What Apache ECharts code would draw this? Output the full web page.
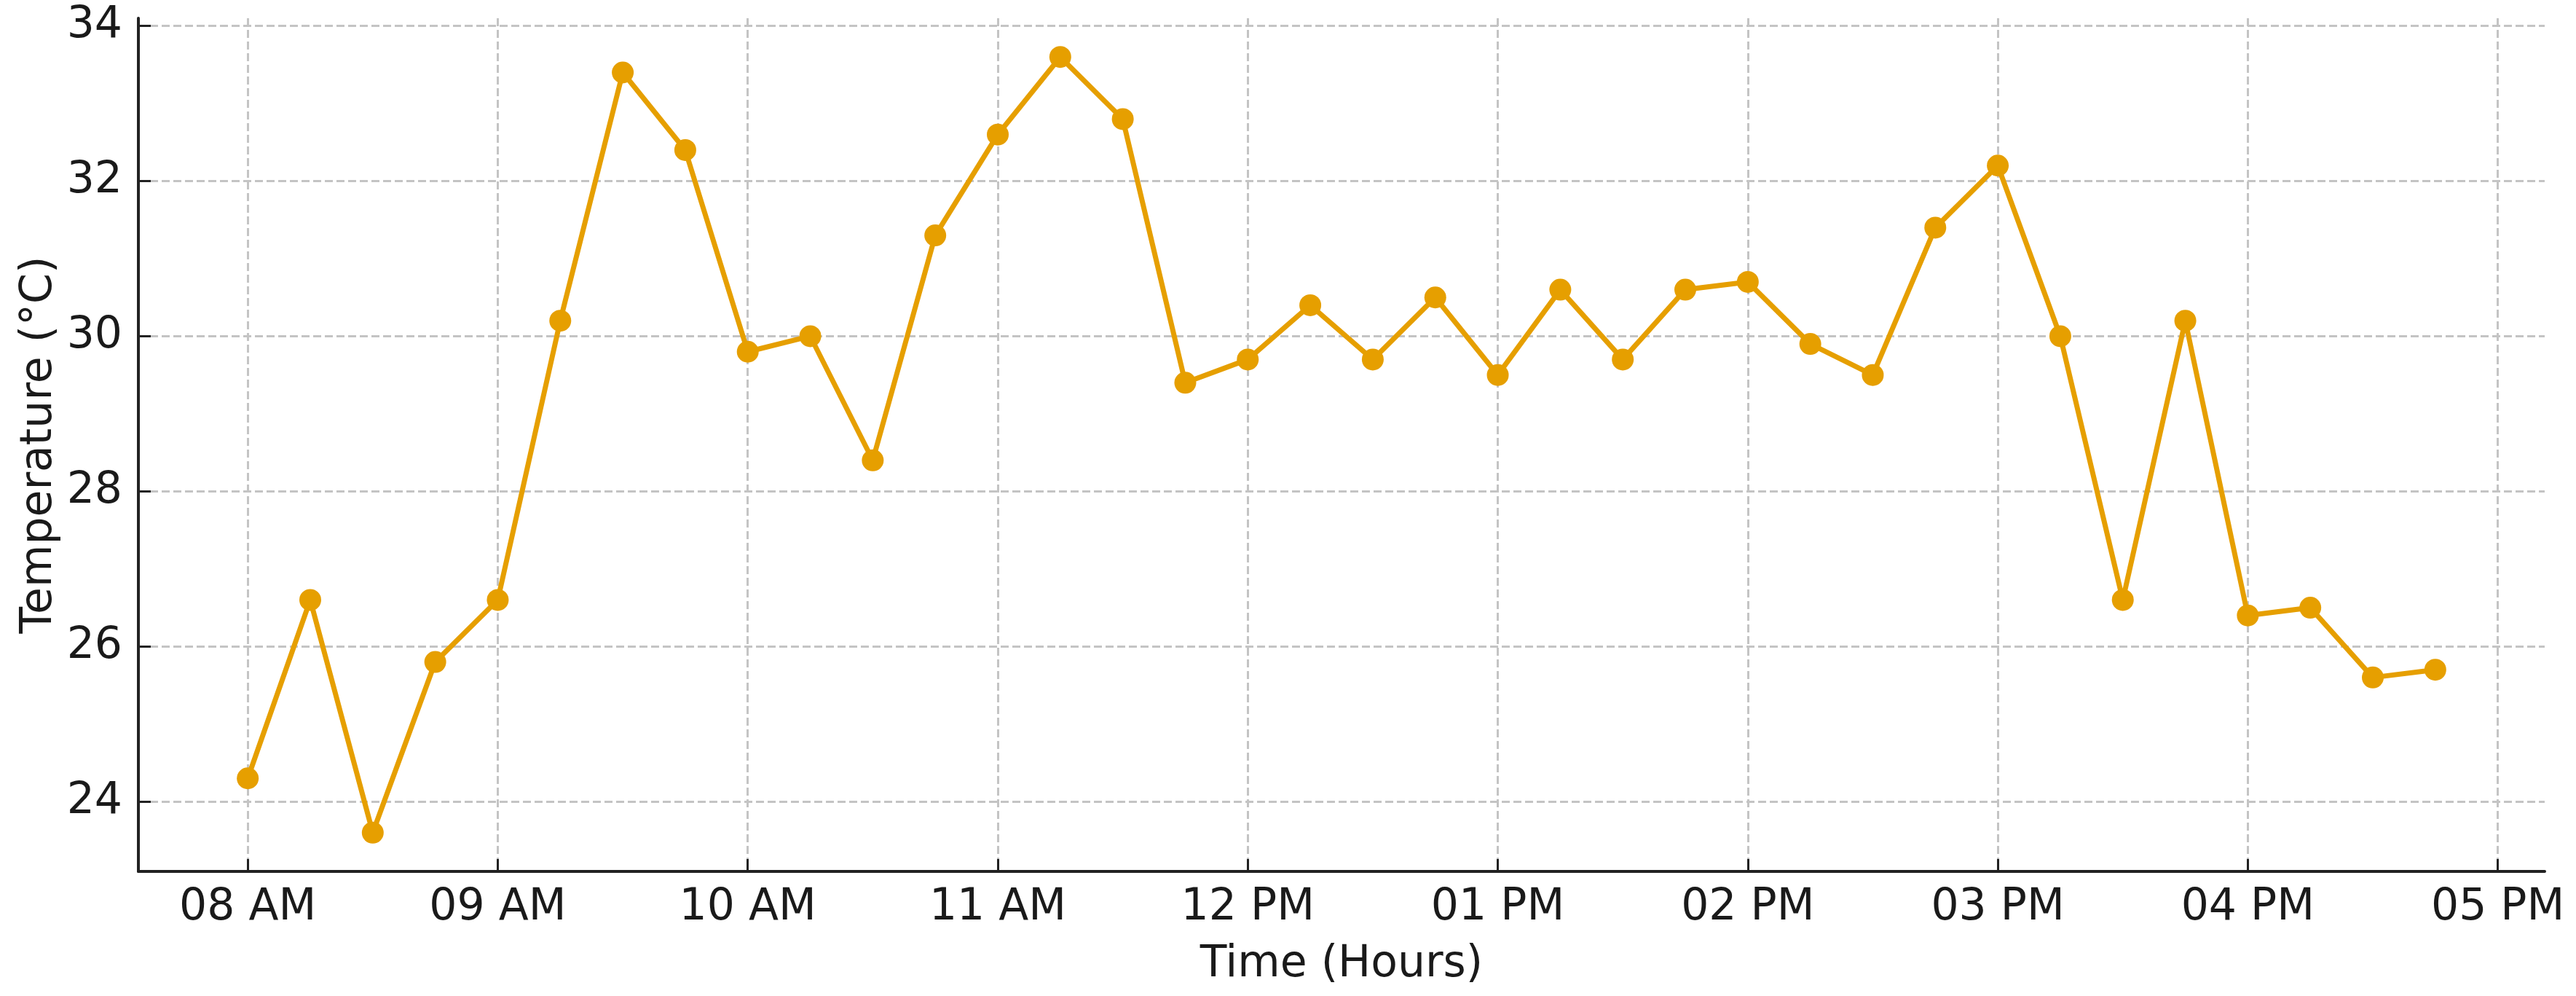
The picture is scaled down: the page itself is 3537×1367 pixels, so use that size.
<!DOCTYPE html>
<html>
<head>
<meta charset="utf-8">
<script src="https://cdn.jsdelivr.net/npm/echarts@6/dist/echarts.min.js"></script>
<style>
html,body{margin:0;padding:0;background:#fff;}
#chart{width:3537px;height:1367px;}
</style>
</head>
<body>
<div id="chart"></div>
<script>
// Data
const times = ['08:00','08:15','08:30','08:45','09:00','09:15','09:30','09:45',
  '10:00','10:15','10:30','10:45','11:00','11:15','11:30','11:45',
  '12:00','12:15','12:30','12:45','13:00','13:15','13:30','13:45',
  '14:00','14:15','14:30','14:45','15:00','15:15','15:30','15:45',
  '16:00','16:15','16:30','16:45'];
const temperatures = [24.3,26.6,23.6,25.8,26.6,30.2,33.4,32.4,
  29.8,30.0,28.4,31.3,32.6,33.6,32.8,29.4,
  29.7,30.4,29.7,30.5,29.5,30.6,29.7,30.6,
  30.7,29.9,29.5,31.4,32.2,30.0,26.6,30.2,
  26.4,26.5,25.6,25.7];
const xTickHours = [8,9,10,11,12,13,14,15,16,17];
const xTickLabels = ['08 AM','09 AM','10 AM','11 AM','12 PM','01 PM','02 PM','03 PM','04 PM','05 PM'];
const yTicks = [24,26,28,30,32,34];
const xTitle = 'Time (Hours)';
const yTitle = 'Temperature (°C)';

function toHours(t){ const p=t.split(':'); return +p[0] + (+p[1])/60; }
const seriesData = times.map((t,i)=>[toHours(t), temperatures[i]]);

const xs = seriesData.map(d=>d[0]);
const ys = temperatures;
const xMinD = Math.min(...xs), xMaxD = Math.max(...xs);
const yMinD = Math.min(...ys), yMaxD = Math.max(...ys);
const xPad = (xMaxD-xMinD)*0.05, yPad = (yMaxD-yMinD)*0.05;

const FONT = 'DejaVu Sans';
const gridStyle = {color:'#c4c4c4', width:3, type:[11,5]};
const axisColor = '#222222';

const chart = echarts.init(document.getElementById('chart'), null, {renderer:'canvas'});
chart.setOption({
  animation:false,
  backgroundColor:'#ffffff',
  grid:{left:190, top:25, right:43, bottom:171, containLabel:false, outerBoundsMode:'none'},
  xAxis:{
    type:'value',
    min:xMinD-xPad, max:xMaxD+xPad,
    name:xTitle, nameLocation:'middle', nameGap:98, nameMoveOverlap:false,
    nameTextStyle:{fontFamily:FONT, fontSize:60, color:'#1a1a1a'},
    axisLine:{show:true, lineStyle:{color:axisColor, width:4}},
    axisTick:{show:true, inside:true, length:17, lineStyle:{color:axisColor, width:3}, customValues:xTickHours},
    axisLabel:{show:true, margin:20, fontFamily:FONT, fontSize:60, color:'#1a1a1a', customValues:xTickHours,
      formatter:function(v){ const i = xTickHours.indexOf(Math.round(v)); return i>=0 ? xTickLabels[i] : ''; }},
    splitLine:{show:true, lineStyle:gridStyle, customValues:xTickHours}
  },
  yAxis:{
    type:'value',
    min:yMinD-yPad, max:yMaxD+yPad,
    name:yTitle, nameLocation:'middle', nameGap:106, nameRotate:90, nameMoveOverlap:false,
    nameTextStyle:{fontFamily:FONT, fontSize:60, color:'#1a1a1a'},
    axisLine:{show:true, lineStyle:{color:axisColor, width:4}},
    axisTick:{show:true, inside:true, length:17, lineStyle:{color:axisColor, width:3}, customValues:yTicks},
    axisLabel:{show:true, margin:22, fontFamily:FONT, fontSize:60, color:'#1a1a1a', customValues:yTicks,
      formatter:function(v){ return String(Math.round(v)); }},
    splitLine:{show:true, lineStyle:gridStyle, customValues:yTicks}
  },
  series:[{
    type:'line',
    data:seriesData,
    symbol:'circle',
    symbolSize:30,
    lineStyle:{color:'#E69F00', width:7},
    itemStyle:{color:'#E69F00'},
    z:5
  }]
});
</script>
</body>
</html>
